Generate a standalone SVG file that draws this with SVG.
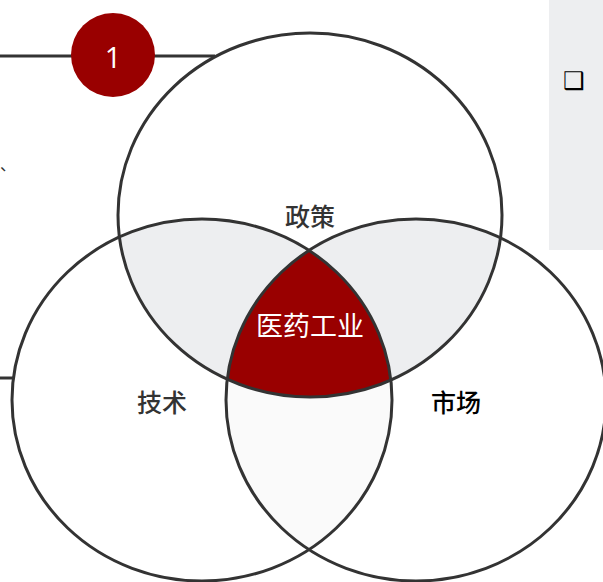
<svg xmlns="http://www.w3.org/2000/svg" width="603" height="582" viewBox="0 0 603 582">
<style>
.ring{fill:none;stroke:#333;stroke-width:3}
.lbl{font-family:"Noto Sans CJK SC","Noto Sans",sans-serif;font-size:25px;font-weight:500;text-anchor:middle;dominant-baseline:central}
.line{stroke:#333;stroke-width:3}
</style>
<defs>
<clipPath id="cTop"><ellipse cx="310" cy="215" rx="192" ry="182"/></clipPath>
<clipPath id="cLeft"><ellipse cx="202" cy="400" rx="190" ry="181"/></clipPath>
<clipPath id="cRight"><ellipse cx="416" cy="400" rx="190" ry="181"/></clipPath>
</defs>
<rect width="603" height="582" fill="#fff"/>
<rect x="549" y="0" width="54" height="250" fill="#EDEEF0"/>
<text x="574" y="81" font-family="DejaVu Sans,sans-serif" font-size="24" font-weight="bold" fill="#000" text-anchor="middle" dominant-baseline="central">❑</text>
<text x="0" y="170" font-family="Noto Sans CJK SC,sans-serif" font-size="16" fill="#333">、</text>
<g id="connectors">
<line class="line" x1="0" y1="56" x2="215" y2="56"/>
<line class="line" x1="0" y1="378" x2="13" y2="378"/>
</g>
<g id="fills">
<ellipse cx="202" cy="400" rx="190" ry="181" fill="#fff"/>
<ellipse cx="416" cy="400" rx="190" ry="181" fill="#fff"/>
<ellipse cx="310" cy="215" rx="192" ry="182" fill="#fff"/>
<ellipse cx="202" cy="400" rx="190" ry="181" fill="#EDEEF0" clip-path="url(#cTop)"/>
<ellipse cx="416" cy="400" rx="190" ry="181" fill="#EDEEF0" clip-path="url(#cTop)"/>
<ellipse cx="202" cy="400" rx="190" ry="181" fill="#FAFAFA" clip-path="url(#cRight)"/>
<g clip-path="url(#cTop)"><ellipse cx="202" cy="400" rx="190" ry="181" fill="#990000" clip-path="url(#cRight)"/></g>
</g>
<g id="node-top"><ellipse class="ring" cx="310" cy="215" rx="192" ry="182"/><text class="lbl" x="310" y="215" fill="#333">政策</text></g>
<g id="node-left"><ellipse class="ring" cx="202" cy="400" rx="190" ry="181"/><text class="lbl" x="162" y="401" fill="#333">技术</text></g>
<g id="node-right"><ellipse class="ring" cx="416" cy="400" rx="190" ry="181"/><text class="lbl" x="456" y="401" fill="#000">市场</text></g>
<g id="node-center"><text class="lbl" x="310" y="324" fill="#fff" style="font-size:27px;font-weight:400">医药工业</text></g>
<g id="node-badge"><circle cx="113" cy="55" r="42" fill="#990000"/><text x="113" y="56" font-family="Open Sans,Liberation Sans,sans-serif" font-size="29" fill="#fff" text-anchor="middle" dominant-baseline="central">1</text></g>
</svg>
